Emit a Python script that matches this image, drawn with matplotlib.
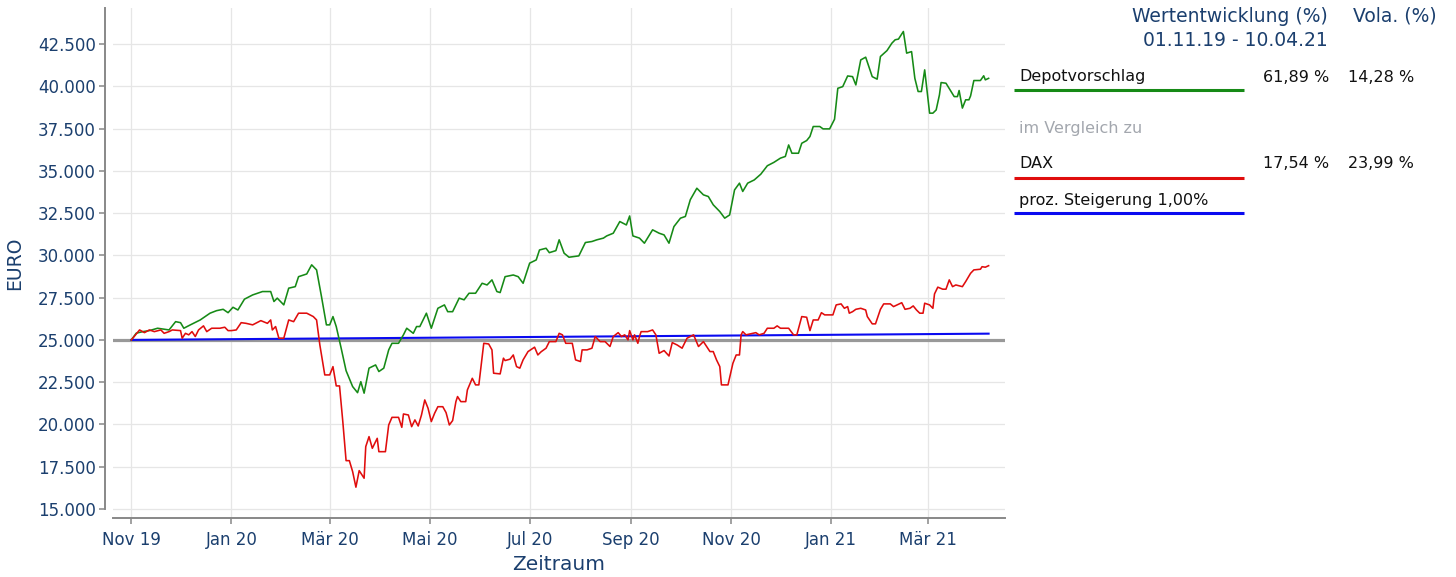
import matplotlib
matplotlib.use('Agg')
import matplotlib.pyplot as plt
import matplotlib.dates as mdates
from matplotlib.lines import Line2D
from matplotlib.ticker import FixedLocator, FuncFormatter
import numpy as np
import pandas as pd

# ---------------- data ----------------
start_date = '2019-11-01'

depot_days = [0, 3, 7, 11, 16, 23, 27, 30, 32, 36, 42, 48, 52, 56, 59, 62, 65, 69, 74, 80,
              85, 87, 89, 93, 96, 100, 102, 107, 110, 113, 116, 119, 121, 123, 125, 128, 131, 135, 138, 140,
              142, 145, 149, 151, 154, 157, 159, 163, 166, 168, 172, 174, 176, 180, 183, 187, 191, 193, 196, 200,
              203, 206, 210, 214, 217, 220, 223, 225, 228, 233, 236, 239, 243, 247, 249, 253, 255, 259, 261, 264,
              267, 273, 277, 281, 284, 288, 290, 294, 298, 302, 304, 306, 310, 313, 318, 322, 325, 328, 331, 335,
              338, 341, 345, 349, 352, 355, 359, 362, 365, 368, 371, 373, 376, 380, 384, 388, 392, 396, 399, 401,
              403, 407, 409, 412, 414, 416, 420, 422, 426, 429, 431, 434, 437, 440, 442, 445, 448, 452, 455, 457,
              461, 464, 466, 468, 471, 473, 476, 478, 480, 482, 484, 487, 489, 491, 493, 494, 497, 502, 504, 505,
              507, 509, 511, 512, 514, 518, 520, 521, 523]
depot_values = [25000, 25400, 25490, 25550, 25690, 25590, 26080, 26020, 25690, 25890, 26180, 26580, 26730, 26810, 26610, 26930, 26770, 27410, 27660, 27860,
                27860, 27270, 27470, 27070, 28060, 28150, 28740, 28900, 29440, 29140, 27560, 25890, 25890, 26380, 25790, 24510, 23180, 22240, 21880, 22530,
                21850, 23330, 23520, 23130, 23330, 24410, 24800, 24800, 25300, 25690, 25390, 25790, 25790, 26580, 25690, 26870, 27070, 26670, 26670, 27470,
                27370, 27760, 27760, 28350, 28250, 28550, 27860, 27800, 28740, 28840, 28740, 28350, 29540, 29730, 30320, 30420, 30160, 30280, 30920, 30130,
                29890, 29970, 30760, 30820, 30920, 31020, 31150, 31310, 32000, 31800, 32330, 31150, 31020, 30720, 31510, 31310, 31210, 30720, 31700, 32200,
                32300, 33290, 33970, 33580, 33480, 32990, 32590, 32200, 32390, 33870, 34270, 33780, 34270, 34460, 34800, 35300, 35500, 35750, 35850, 36530,
                36040, 36040, 36630, 36790, 37030, 37620, 37620, 37480, 37480, 38050, 39880, 39980, 40610, 40570, 40080, 41560, 41720, 40570, 40420, 41760,
                42110, 42550, 42750, 42790, 43240, 41960, 42050, 40470, 39690, 39690, 40970, 38410, 38410, 38600, 39490, 40220, 40180, 39390, 39390, 39750,
                38710, 39200, 39200, 39430, 40340, 40340, 40620, 40380, 40470]

dax_days = [0, 5, 8, 11, 14, 18, 20, 23, 25, 30, 31, 33, 35, 37, 39, 41, 44, 46, 49, 54,
            57, 59, 61, 64, 67, 70, 74, 79, 83, 85, 86, 88, 90, 93, 96, 99, 102, 107, 111, 113,
            115, 118, 121, 123, 125, 127, 129, 131, 133, 135, 137, 139, 142, 143, 145, 147, 150, 151, 155, 157,
            159, 163, 165, 166, 169, 171, 173, 175, 177, 179, 181, 183, 185, 187, 190, 192, 194, 196, 198, 199,
            201, 204, 205, 208, 210, 212, 214, 215, 218, 220, 221, 225, 227, 228, 231, 233, 235, 237, 239, 242,
            246, 248, 250, 253, 255, 259, 261, 263, 265, 269, 271, 274, 275, 278, 281, 283, 286, 289, 292, 294,
            297, 299, 301, 303, 304, 306, 307, 309, 310, 311, 315, 318, 320, 322, 325, 328, 330, 333, 336, 339,
            343, 346, 349, 353, 355, 357, 359, 360, 364, 367, 369, 371, 372, 373, 375, 379, 381, 383, 386, 388,
            392, 394, 396, 401, 404, 406, 409, 412, 414, 416, 419, 421, 423, 428, 430, 433, 435, 437, 438, 440,
            442, 445, 448, 449, 452, 454, 457, 459, 463, 465, 470, 472, 475, 477, 479, 481, 483, 484, 487, 489,
            490, 492, 495, 497, 499, 501, 503, 507, 509, 512, 514, 518, 519, 521, 523]
dax_values = [25000, 25590, 25430, 25590, 25490, 25590, 25390, 25490, 25590, 25550, 25100, 25390, 25300, 25490, 25200, 25590, 25830, 25490, 25690, 25690,
              25750, 25550, 25550, 25590, 26020, 25980, 25890, 26140, 25980, 26180, 25590, 25790, 25100, 25100, 26180, 26080, 26580, 26580, 26380, 26180,
              24700, 22930, 22930, 23420, 22280, 22280, 20170, 17860, 17860, 17210, 16290, 17270, 16820, 18690, 19280, 18590, 19180, 18390, 18390, 19970,
              20420, 20420, 19830, 20620, 20560, 19870, 20270, 19910, 20560, 21450, 20960, 20170, 20660, 21050, 21050, 20700, 19970, 20230, 21350, 21650,
              21350, 21350, 22040, 22730, 22340, 22340, 24010, 24800, 24760, 24410, 23030, 22990, 23920, 23780, 23860, 24110, 23420, 23330, 23820, 24310,
              24570, 24110, 24300, 24510, 24900, 24900, 25390, 25300, 24800, 24800, 23820, 23720, 24410, 24410, 24510, 25200, 24900, 24900, 24610, 25200,
              25430, 25200, 25300, 25000, 25550, 25000, 25300, 24800, 25200, 25490, 25490, 25590, 25300, 24210, 24370, 24050, 24840, 24700, 24510, 25100,
              25300, 24610, 24900, 24310, 24310, 23820, 23420, 22340, 22340, 23620, 24110, 24110, 25300, 25490, 25300, 25390, 25430, 25300, 25390, 25690,
              25690, 25830, 25690, 25690, 25300, 25300, 26380, 26340, 25550, 26180, 26180, 26610, 26480, 26480, 27070, 27130, 26870, 26970, 26580, 26670,
              26810, 26870, 26770, 26380, 25950, 25950, 26810, 27130, 27130, 26970, 27200, 26810, 26870, 27010, 26770, 26580, 26580, 27170, 27070, 26870,
              27720, 28120, 28000, 28000, 28550, 28150, 28250, 28150, 28450, 28940, 29140, 29180, 29330, 29300, 29390]

trend_days = [0, 523]
trend_values = [25000, 25370]
base_value = 25000

xtick_dates = ['2019-11-01', '2020-01-01', '2020-03-01', '2020-05-01', '2020-07-01',
               '2020-09-01', '2020-11-01', '2021-01-01', '2021-03-01']
xtick_labels = ['Nov 19', 'Jan 20', 'Mär 20', 'Mai 20', 'Jul 20', 'Sep 20', 'Nov 20', 'Jan 21', 'Mär 21']
ytick_values = [15000, 17500, 20000, 22500, 25000, 27500, 30000, 32500, 35000, 37500, 40000, 42500]

series_names = ['Depotvorschlag', 'DAX', 'proz. Steigerung 1,00%']
performance = ['61,89 %', '17,54 %', '']
volatility = ['14,28 %', '23,99 %', '']
period_label = '01.11.19 - 10.04.21'

# ---------------- style ----------------
NAVY = '#1b3f6e'
GREEN = '#168a16'
RED = '#e00d0d'
BLUE = '#0a0af0'
GRAY = '#999999'
AXGRAY = '#888888'
plt.rcParams['font.family'] = ['DejaVu Sans']

W, H = 1456, 577
fig = plt.figure(figsize=(W / 100, H / 100), dpi=100)
ax_l, ax_r, ax_t, ax_b = 113, 1005, 8, 518
ax = fig.add_axes([ax_l / W, 1 - ax_b / H, (ax_r - ax_l) / W, (ax_b - ax_t) / H])

t0 = pd.Timestamp(start_date)
def to_dates(days):
    return mdates.date2num((t0 + pd.to_timedelta(np.array(days), unit='D')).to_pydatetime())

dep_x = to_dates(depot_days)
dax_x = to_dates(dax_days)
tr_x = to_dates(trend_days)

ax.axhline(base_value, color=GRAY, lw=2.3, zorder=2)
ax.plot(tr_x, trend_values, color=BLUE, lw=1.5, zorder=3)
ax.plot(dep_x, depot_values, color=GREEN, lw=1.15, zorder=4)
ax.plot(dax_x, dax_values, color=RED, lw=1.15, zorder=5)

x0 = mdates.date2num(t0.to_pydatetime())
ax.set_xlim(x0 - 11.2, x0 + 533)
ax.set_ylim(14468, 44629)

ax.xaxis.set_major_locator(FixedLocator(mdates.date2num(pd.to_datetime(xtick_dates).to_pydatetime())))
ax.set_xticklabels(xtick_labels)
ax.yaxis.set_major_locator(FixedLocator(ytick_values))
ax.yaxis.set_major_formatter(FuncFormatter(lambda v, p: f'{int(v):,}'.replace(',', '.')))

ax.grid(True, color='#e6e6e6', lw=0.9, zorder=0)
ax.set_axisbelow(True)
for s in ['top', 'right']:
    ax.spines[s].set_visible(False)
ax.spines['left'].set_position(('outward', 5.8))
ax.spines['left'].set_bounds(15000, 44629)
for s in ['left', 'bottom']:
    ax.spines[s].set_color(AXGRAY)
    ax.spines[s].set_linewidth(1.4)
ax.tick_params(axis='both', colors=AXGRAY, width=1.1, length=4.5, labelcolor=NAVY)
ax.tick_params(axis='y', labelsize=12, pad=2)
ax.tick_params(axis='x', labelsize=12, pad=5)

ax.set_xlabel('Zeitraum', fontsize=14.5, color=NAVY)
ax.xaxis.set_label_coords(0.5, -(564 - ax_b) / (ax_b - ax_t))
ax.xaxis.label.set_va('center')
ax.set_ylabel('EURO', fontsize=13.5, color=NAVY)
ax.yaxis.set_label_coords(-(ax_l - 15) / (ax_r - ax_l), 0.5)
ax.yaxis.label.set_va('center')

# ---------------- legend panel ----------------
def fx(px):
    return px / W
def fy(py):
    return 1 - py / H

fig.text(fx(1328), fy(16), 'Wertentwicklung (%)', ha='right', va='center', fontsize=13.5, color=NAVY)
fig.text(fx(1437), fy(16), 'Vola. (%)', ha='right', va='center', fontsize=13.5, color=NAVY)
fig.text(fx(1328), fy(40), period_label, ha='right', va='center', fontsize=13.5, color=NAVY)

colors = [GREEN, RED, BLUE]
text_y = [77, 164, 200]
line_y = [90, 178, 213]
for name, perf, vola, c, ty, ly in zip(series_names, performance, volatility, colors, text_y, line_y):
    fig.text(fx(1019), fy(ty), name, ha='left', va='center', fontsize=11.5, color='#111111')
    if perf:
        fig.text(fx(1329), fy(ty), perf, ha='right', va='center', fontsize=11.5, color='#111111')
    if vola:
        fig.text(fx(1414), fy(ty), vola, ha='right', va='center', fontsize=11.5, color='#111111')
    fig.add_artist(Line2D([fx(1014), fx(1244)], [fy(ly), fy(ly)], transform=fig.transFigure,
                          color=c, lw=2.2, solid_capstyle='butt'))

fig.text(fx(1019), fy(129), 'im Vergleich zu', ha='left', va='center', fontsize=11.5, color='#a3a7ae')

fig.savefig('out.png', dpi=100)
